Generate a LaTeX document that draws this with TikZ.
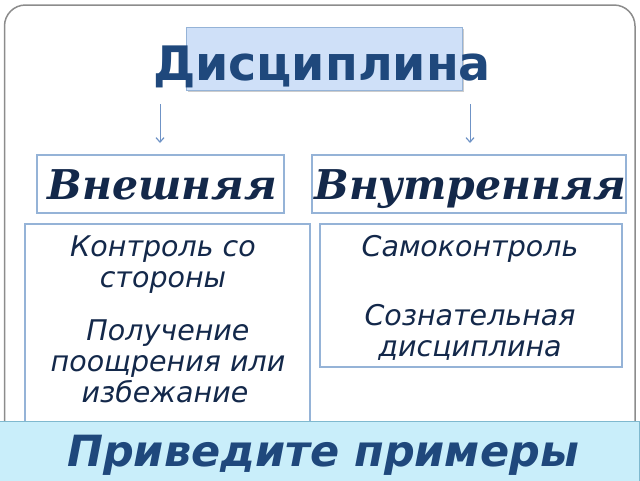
\documentclass[tikz,border=0pt]{standalone}
\usepackage{fontspec}
\setmainfont{DejaVu Sans}
\newfontfamily\titlefont{DejaVu Sans}
\newfontfamily\serifbi{DejaVu Serif}
\usetikzlibrary{arrows.meta}
\definecolor{titleblue}{HTML}{1F487C}
\definecolor{navy}{HTML}{13284A}
\definecolor{boxline}{HTML}{95B3D7}
\definecolor{arrowline}{HTML}{6F93C6}
\definecolor{titlefill}{HTML}{CFE0F8}
\definecolor{bannerfill}{HTML}{C9EEFA}
\definecolor{bannerline}{HTML}{7FB9CF}
\definecolor{frame}{HTML}{8C8C8C}
\tikzset{
  plainbox/.style={draw=boxline, line width=1.3pt, fill=white},
  linkarrow/.style={draw=arrowline, line width=1pt, -{Straight Barb[length=4.5pt,width=8pt,line width=1.2pt]}},
  bodytext/.style={text=navy, font=\itshape\fontsize{28.5}{34}\selectfont, align=center, inner sep=0pt},
  kindtext/.style={text=navy, font=\serifbi\bfseries\itshape\fontsize{41}{46}\selectfont, inner sep=0pt, anchor=base},
}
\begin{document}
\begin{tikzpicture}[x=1pt,y=-1pt]
\useasboundingbox (0,0) rectangle (640,480);
% outer frame
\draw[frame, line width=1.5pt, rounded corners=21pt] (4.5,480+30) -- (4.5,5) -- (635,5) -- (635,480+30);
% title background
\fill[black!20] (188,29) rectangle (464,92);
\draw[fill=titlefill, draw=boxline, line width=1pt] (186,27) rectangle (462,90);
\node[font=\titlefont\bfseries\fontsize{47.5}{55}\selectfont, text=titleblue, anchor=base, inner sep=0pt] (title) at (322,80) {Дисциплина};
% kind boxes
\draw[plainbox] (37,155) rectangle (284,213);
\draw[plainbox] (312,155) rectangle (626,213);
\node[kindtext] (extlabel) at (162.5,199) {Внешняя};
\node[kindtext] (intlabel) at (470.5,199) {Внутренняя};
% arrows
\coordinate (la) at (160,104);
\coordinate (ra) at (470,104);
\coordinate (lb) at (160,143);
\coordinate (rb) at (470,143);
\draw[linkarrow] (la) -- (lb);
\draw[linkarrow] (ra) -- (rb);
% content boxes
\draw[plainbox] (25,510) -- (25,224) -- (310,224) -- (310,510);
\draw[plainbox] (320,224) rectangle (622,367);
\node[bodytext, anchor=base] (l1) at (163,256) {Контроль со};
\node[bodytext, anchor=base] (l2) at (163,287) {стороны};
\node[bodytext, anchor=base] (l3) at (168,340) {Получение};
\node[bodytext, anchor=base] (l4) at (168,371) {поощрения или};
\node[bodytext, anchor=base] (l5) at (165,402) {избежание};
\node[bodytext, anchor=base] (r1) at (470,256) {Самоконтроль};
\node[bodytext, anchor=base] (r2) at (470,325) {Сознательная};
\node[bodytext, anchor=base] (r3) at (470,356) {дисциплина};
% banner
\draw[fill=bannerfill, draw=bannerline, line width=1pt] (-1,421) rectangle (639.5,481);
\node[font=\bfseries\itshape\fontsize{43}{50}\selectfont, text=titleblue, anchor=base, inner sep=0pt] (banner) at (323,466) {Приведите примеры};
\end{tikzpicture}
\end{document}
